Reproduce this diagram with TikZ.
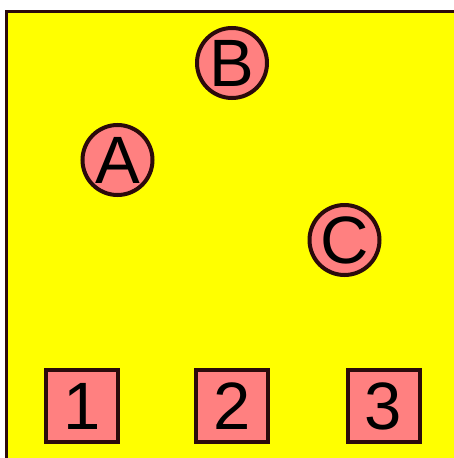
\documentclass[tikz,border=0pt]{standalone}
\usepackage{fontspec}
\setmainfont{Liberation Sans}
\definecolor{bord}{HTML}{2B0B0B}
\definecolor{salmon}{HTML}{FF8080}
\definecolor{bgyellow}{HTML}{FFFF00}
\tikzset{
  circ/.style={circle, draw=bord, fill=salmon, line width=4pt, minimum size=70pt, inner sep=0pt, font=\fontsize{67}{67}\selectfont},
  sq/.style={rectangle, draw=bord, fill=salmon, line width=4pt, minimum size=72pt, inner sep=0pt, font=\fontsize{67}{67}\selectfont}
}
\begin{document}
\begin{tikzpicture}[x=1pt,y=-1pt]
\useasboundingbox (0,0) rectangle (454,458);
\clip (0,0) rectangle (454,458);
\fill[white] (0,0) rectangle (454,458);
\draw[draw=bord, fill=bgyellow, line width=2.5pt] (6.5,11.5) rectangle (480,480);
\node[circ] (A) at (117.5,160) {A};
\node[circ] (B) at (232,63) {B};
\node[circ] (C) at (344.5,240) {C};
\node[sq] (n1) at (82,406) {1};
\node[sq] (n2) at (232,406) {2};
\node[sq] (n3) at (383.5,406) {3};
\end{tikzpicture}
\end{document}
